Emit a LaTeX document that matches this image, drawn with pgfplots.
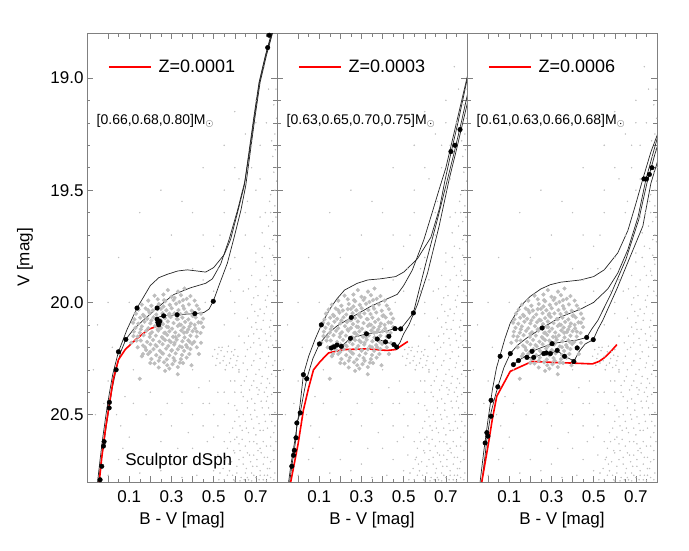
\documentclass[border=0pt]{standalone}
\usepackage{fontspec}
\setmainfont{Liberation Sans}
\usepackage{pgfplots}
\pgfplotsset{compat=1.18}
\usepackage{pgfplotstable}

% observed stars (same in all panels): blue stragglers and field/galaxy stars
\pgfplotstableread{
x y
0.283 19.945
0.331 19.952
0.362 19.938
0.22 19.97
0.262 19.965
0.30 19.975
0.345 19.968
0.39 19.972
0.19 19.992
0.235 19.986
0.27 19.995
0.31 19.989
0.338 19.998
0.372 19.984
0.41 19.992
0.16 20.01
0.205 20.015
0.24 20.007
0.262 20.018
0.292 20.011
0.322 20.006
0.355 20.016
0.383 20.009
0.42 20.014
0.145 20.032
0.178 20.027
0.212 20.036
0.25 20.029
0.276 20.035
0.301 20.026
0.333 20.034
0.36 20.028
0.396 20.037
0.43 20.03
0.132 20.05
0.165 20.055
0.196 20.046
0.228 20.054
0.258 20.048
0.287 20.057
0.314 20.049
0.343 20.052
0.37 20.045
0.405 20.058
0.44 20.05
0.125 20.075
0.152 20.068
0.185 20.073
0.215 20.066
0.243 20.077
0.27 20.07
0.296 20.065
0.325 20.074
0.352 20.068
0.38 20.076
0.415 20.067
0.45 20.072
0.118 20.09
0.143 20.095
0.172 20.086
0.2 20.093
0.232 20.088
0.26 20.097
0.283 20.085
0.31 20.092
0.338 20.098
0.365 20.087
0.392 20.094
0.428 20.089
0.13 20.113
0.16 20.107
0.19 20.115
0.222 20.106
0.25 20.114
0.277 20.108
0.303 20.117
0.33 20.105
0.358 20.112
0.386 20.107
0.412 20.116
0.122 20.13
0.15 20.135
0.18 20.127
0.208 20.133
0.238 20.126
0.266 20.136
0.29 20.129
0.318 20.134
0.347 20.125
0.373 20.132
0.4 20.128
0.438 20.136
0.14 20.152
0.168 20.146
0.197 20.154
0.226 20.148
0.255 20.155
0.28 20.145
0.308 20.153
0.335 20.147
0.362 20.156
0.39 20.148
0.42 20.152
0.155 20.17
0.185 20.176
0.213 20.167
0.243 20.175
0.27 20.168
0.297 20.177
0.325 20.166
0.352 20.173
0.38 20.169
0.408 20.176
0.165 20.192
0.2 20.187
0.23 20.195
0.258 20.186
0.285 20.194
0.313 20.188
0.34 20.196
0.37 20.19
0.398 20.185
0.18 20.212
0.215 20.208
0.245 20.215
0.275 20.206
0.302 20.213
0.33 20.209
0.36 20.216
0.39 20.208
0.19 20.23
0.228 20.235
0.26 20.228
0.29 20.236
0.32 20.227
0.35 20.234
0.385 20.23
0.205 20.252
0.245 20.246
0.278 20.254
0.31 20.248
0.345 20.253
0.372 20.246
0.22 20.272
0.265 20.267
0.305 20.275
0.34 20.268
0.24 20.29
0.29 20.295
0.33 20.288
0.15 20.34
0.33 20.32
0.27 20.305
0.395 20.28
0.11 20.18
0.44 20.18
0.45 20.11
0.43 20.23
0.16 20.24
0.14 20.2
0.12 20.15
0.42 20.2
0.2 20.27
0.17 20.06
0.205 20.08
0.235 20.12
0.26 20.16
0.29 20.05
0.315 20.18
0.345 20.1
0.375 20.2
0.4 20.06
0.2 20.14
0.225 20.19
0.255 20.225
0.285 20.11
0.3 20.215
0.33 20.075
0.36 20.135
0.385 20.175
0.41 20.1
0.19 20.035
0.235 20.03
0.315 19.98
0.265 19.99
0.355 19.99
0.42 20.13
0.44 20.09
0.175 20.2
0.24 20.26
0.28 20.28
0.315 20.26
0.355 20.27
0.135 20.17
0.155 20.12
0.165 20.23
0.2 20.22
0.27 20.135
0.32 20.155
0.35 20.2
0.29 20.17
0.38 20.12
0.25 20.08
}\bsstab

\pgfplotstableread{
x y
0.505 20.21
0.52 20.23
0.535 20.215
0.55 20.24
0.565 20.22
0.58 20.25
0.595 20.235
0.61 20.26
0.515 20.25
0.53 20.27
0.545 20.26
0.56 20.28
0.575 20.27
0.59 20.29
0.605 20.28
0.62 20.3
0.54 20.2
0.57 20.195
0.6 20.21
0.51 20.28
0.555 20.3
0.585 20.22
0.525 20.2
0.615 20.24
0.495 20.24
0.72 19.62
0.76 19.66
0.79 19.7
0.74 19.75
0.78 19.79
0.70 19.78
0.77 19.6
0.73 19.69
0.70 19.82
0.74 19.84
0.77 19.86
0.79 19.83
0.68 19.88
0.72 19.9
0.76 19.93
0.785 19.95
0.71 19.97
0.745 19.99
0.665 19.94
0.79 19.9
0.68 20.01
0.72 20.03
0.75 20.02
0.78 20.05
0.66 20.07
0.70 20.09
0.735 20.08
0.765 20.11
0.79 20.13
0.69 20.14
0.715 20.16
0.75 20.17
0.78 20.19
0.645 20.18
0.675 20.2
0.725 20.12
0.66 20.21
0.70 20.23
0.73 20.22
0.76 20.24
0.79 20.26
0.64 20.27
0.68 20.28
0.715 20.3
0.745 20.29
0.775 20.32
0.655 20.33
0.69 20.35
0.725 20.36
0.755 20.34
0.785 20.38
0.63 20.37
0.67 20.39
0.705 20.38
0.74 20.4
0.62 20.31
0.64 20.42
0.68 20.43
0.71 20.41
0.75 20.44
0.78 20.45
0.60 20.46
0.66 20.47
0.695 20.48
0.73 20.47
0.765 20.5
0.62 20.51
0.65 20.53
0.68 20.52
0.715 20.54
0.745 20.53
0.79 20.55
0.59 20.56
0.635 20.57
0.665 20.58
0.70 20.59
0.735 20.57
0.77 20.6
0.61 20.6
0.755 20.42
0.58 20.62
0.62 20.63
0.65 20.64
0.69 20.62
0.72 20.65
0.75 20.64
0.785 20.66
0.60 20.67
0.64 20.69
0.67 20.68
0.705 20.7
0.74 20.69
0.77 20.71
0.57 20.72
0.61 20.73
0.655 20.74
0.685 20.73
0.72 20.75
0.755 20.74
0.79 20.76
0.59 20.77
0.63 20.78
0.665 20.79
0.70 20.78
0.735 20.79
0.77 20.78
0.55 20.79
0.6 20.795
0.645 20.79
0.68 20.795
0.715 20.79
0.56 20.69
0.53 20.76
0.71 20.66
0.68 20.76
0.62 20.7
0.74 20.77
0.5 19.75
0.55 19.6
0.62 19.45
0.68 19.3
0.45 19.9
0.58 19.95
0.6 20.05
0.55 20.1
0.58 20.35
0.52 20.4
0.48 20.45
0.55 20.5
0.45 20.55
0.5 20.6
0.4 20.65
0.45 20.7
0.5 20.75
0.35 20.78
0.42 20.77
0.3 20.72
0.38 20.58
0.25 20.62
0.2 20.7
0.15 20.76
0.28 20.45
0.35 20.4
0.18 20.5
0.1 20.6
0.05 20.7
0.0 20.77
-0.06 20.5
-0.07 20.3
0.08 20.42
0.12 20.3
0.02 20.2
0.1 20.0
0.2 19.8
0.3 19.7
0.4 19.6
0.45 19.4
0.55 19.3
0.6 19.15
0.7 19.1
0.75 19.2
0.78 19.35
0.79 19.5
0.66 19.55
0.72 19.45
0.52 19.85
0.62 19.9
0.4 19.85
0.35 20.45
0.43 20.38
0.6 20.4
0.57 20.45
0.65 19.7
0.6 19.8
0.76 19.05
0.79 19.25
0.74 18.95
0.795 19.05
0.785 19.12
0.798 19.18
0.775 19.28
0.792 19.32
0.785 19.42
0.798 19.46
0.77 19.52
0.79 19.57
0.78 19.64
0.797 19.73
0.765 19.76
0.788 19.81
0.775 19.88
0.797 19.97
0.755 19.97
0.78 19.72
0.765 19.55
0.745 19.6
0.73 19.8
0.75 19.88
0.7 19.93
0.69 19.98
0.8 19.4
0.795 19.62
0.695 20.04
0.71 20.06
0.74 20.05
0.77 20.08
0.68 20.11
0.705 20.12
0.745 20.14
0.77 20.15
0.795 20.17
0.665 20.15
0.69 20.18
0.72 20.19
0.76 20.2
0.65 20.24
0.69 20.26
0.72 20.25
0.75 20.27
0.78 20.28
0.66 20.3
0.7 20.32
0.73 20.33
0.765 20.36
0.795 20.33
0.645 20.35
0.68 20.37
0.715 20.39
0.75 20.38
0.775 20.41
0.63 20.4
0.66 20.44
0.695 20.45
0.725 20.44
0.76 20.47
0.79 20.49
0.61 20.48
0.64 20.5
0.675 20.5
0.705 20.51
0.74 20.5
0.775 20.53
0.6 20.53
0.625 20.55
0.655 20.56
0.69 20.56
0.72 20.57
0.755 20.56
0.785 20.58
0.575 20.58
0.6 20.61
0.635 20.61
0.67 20.62
0.705 20.63
0.735 20.62
0.77 20.64
0.795 20.62
0.565 20.65
0.595 20.66
0.625 20.66
0.66 20.67
0.69 20.68
0.725 20.67
0.755 20.69
0.785 20.7
0.555 20.7
0.585 20.71
0.64 20.72
0.675 20.71
0.705 20.73
0.735 20.72
0.765 20.74
0.545 20.74
0.575 20.75
0.61 20.76
0.65 20.76
0.69 20.77
0.72 20.77
0.755 20.77
0.785 20.79
0.525 20.79
0.565 20.77
0.595 20.79
0.625 20.795
0.66 20.78
0.75 20.795
0.04 20.5
0.06 20.55
-0.02 20.45
0.0 20.35
0.07 20.65
0.12 20.45
0.2 20.4
0.25 20.5
0.3 20.55
0.33 20.65
0.25 20.75
0.4 20.5
0.45 20.45
0.52 20.55
0.47 20.62
0.52 20.68
0.55 20.62
0.5 20.5
0.55 20.4
0.6 20.35
0.62 20.15
0.6 20.0
0.64 19.95
0.58 19.85
0.5 19.95
0.48 20.35
0.4 20.3
0.46 20.0
0.53 19.7
0.65 19.6
0.7 19.5
0.68 19.4
0.72 19.3
0.7 19.2
0.65 19.25
0.6 19.4
0.55 19.5
0.45 19.7
0.35 19.55
0.25 19.5
0.15 19.6
0.05 19.8
0.0 20.0
-0.05 20.1
}\fieldtab

\tikzset{masslab/.style={anchor=west, inner sep=0pt, font=\fontsize{14}{16}\selectfont}}

\pgfplotsset{
  cmdpanel/.style={
    scale only axis, width=190pt, height=449pt,
    xmin=-0.1, xmax=0.8, ymin=18.8, ymax=20.8, y dir=reverse,
    xtick={0,0.1,0.2,0.3,0.4,0.5,0.6,0.7,0.8},
    xticklabels={,0.1,,0.3,,0.5,,0.7,},
    minor x tick num=1,
    ytick={19.0,19.5,20.0,20.5},
    minor y tick num=4,
    tick align=inside,
    axis line style={black!50, line width=0.6pt},
    tick style={black!50, line width=0.5pt},
    major tick length=6pt, minor tick length=3.5pt,
    xlabel={B - V [mag]},
    tick label style={font=\fontsize{17}{19}\selectfont},
    xticklabel style={yshift=-5pt},
    label style={font=\fontsize{17}{19}\selectfont},
    xlabel style={at={(axis description cs:0.5,-0.085)}, anchor=center},
    legend style={draw=none, fill=none, at={(0.11,0.924)}, anchor=west,
      font=\fontsize{18}{20}\selectfont, inner sep=0pt, column sep=7pt,
      nodes={inner sep=0pt}},
    legend image code/.code={\draw[red, line width=1.6pt] (0pt,0pt) -- (42pt,0pt);},
  },
  field/.style={only marks, mark=*, mark size=0.5pt, black!25, forget plot},
  bss/.style={only marks, mark=*, mark size=1.9pt, black!26, forget plot},
  track/.style={black!85, line width=0.7pt, forget plot},
  zahb/.style={red, line width=1.6pt},
  hbdot/.style={only marks, mark=*, mark size=2.3pt, black, forget plot},
}

\begin{document}
\begin{tikzpicture}
\path (-87pt,-69pt) rectangle (602pt,482pt);

% ---------------- Z = 0.0001 ----------------
\begin{axis}[cmdpanel, at={(0pt,0pt)}, anchor=south west,
  yticklabels={19.0,19.5,20.0,20.5},
  ylabel={V [mag]},
  ylabel style={at={(axis description cs:-0.326,0.5)}, anchor=center}]
\addplot[field] table {\fieldtab};
\addplot[bss] table {\bsstab};
\addplot[track] coordinates {(-0.05,20.80) (-0.038,20.70) (-0.025,20.60) (-0.01,20.50) (0.005,20.41) (0.022,20.32) (0.049,20.22) (0.09,20.12) (0.137,20.025) (0.2,19.925) (0.24,19.89) (0.28,19.875) (0.33,19.86) (0.375,19.855) (0.42,19.86) (0.462,19.865) (0.50,19.845) (0.55,19.787) (0.58,19.72) (0.613,19.60) (0.645,19.48) (0.665,19.345) (0.69,19.177) (0.715,19.02) (0.745,18.90) (0.78,18.78)};
\addplot[track] coordinates {(-0.045,20.80) (-0.035,20.72) (-0.022,20.64) (-0.005,20.53) (0.005,20.47) (0.02,20.38) (0.038,20.30) (0.06,20.22) (0.084,20.165) (0.12,20.12) (0.16,20.085) (0.232,20.025) (0.27,19.995) (0.311,19.965) (0.39,19.935) (0.462,19.915) (0.494,19.895) (0.533,19.83) (0.573,19.72) (0.613,19.59) (0.648,19.46) (0.668,19.34) (0.692,19.18) (0.717,19.02) (0.747,18.90) (0.78,18.79)};
\addplot[track] coordinates {(0.245,20.10) (0.234,20.09) (0.232,20.075) (0.24,20.065) (0.263,20.06) (0.327,20.055) (0.411,20.05) (0.454,20.045) (0.478,20.03) (0.498,19.995) (0.525,19.925) (0.565,19.825) (0.597,19.71) (0.629,19.59) (0.652,19.48) (0.672,19.34) (0.695,19.18) (0.72,19.02) (0.75,18.9) (0.782,18.79)};
\addplot[zahb] coordinates {(-0.042,20.80) (-0.03,20.69) (-0.012,20.56) (0.008,20.44) (0.025,20.34) (0.049,20.255) (0.081,20.21) (0.13,20.166) (0.192,20.12) (0.248,20.10)};
\addlegendentry{Z=0.0001}
\addplot[hbdot] coordinates {(-0.038,20.79) (-0.03,20.73) (-0.022,20.64) (-0.019,20.62) (0.005,20.47) (0.006,20.445) (0.038,20.30) (0.049,20.22) (0.084,20.165) (0.137,20.025) (0.232,20.025) (0.232,20.075) (0.236,20.09) (0.24,20.10) (0.245,20.085) (0.263,20.06) (0.327,20.055) (0.411,20.05) (0.498,19.995) (0.756,18.865) (0.763,18.81)};
\node[masslab] at (axis cs:-0.055,19.19) {[0.66,0.68,0.80]M$_\odot$};
\node[anchor=west, inner sep=0pt, font=\fontsize{17}{19}\selectfont] at (axis cs:0.081,20.706) {Sculptor dSph};
\end{axis}

% ---------------- Z = 0.0003 ----------------
\begin{axis}[cmdpanel, at={(190pt,0pt)}, anchor=south west, yticklabels={}]
\addplot[field] table {\fieldtab};
\addplot[bss] table {\bsstab};
\addplot[track] coordinates {(-0.045,20.80) (-0.035,20.73) (-0.025,20.67) (-0.013,20.60) (-0.002,20.53) (0.01,20.45) (0.025,20.322) (0.05,20.24) (0.08,20.165) (0.11,20.10) (0.15,20.03) (0.184,19.984) (0.22,19.945) (0.28,19.915) (0.33,19.9) (0.39,19.895) (0.462,19.885) (0.50,19.865) (0.565,19.806) (0.629,19.71) (0.67,19.58) (0.695,19.46) (0.725,19.33) (0.757,19.2) (0.80,19.01) (0.81,18.97)};
\addplot[track] coordinates {(-0.04,20.80) (-0.03,20.73) (-0.022,20.681) (-0.018,20.659) (-0.01,20.603) (-0.006,20.537) (0.01,20.492) (0.028,20.40) (0.041,20.34) (0.07,20.25) (0.101,20.185) (0.14,20.14) (0.184,20.105) (0.252,20.067) (0.343,20.018) (0.422,19.984) (0.47,19.964) (0.50,19.925) (0.541,19.856) (0.596,19.72) (0.635,19.6) (0.667,19.5) (0.70,19.40) (0.745,19.22) (0.79,19.04) (0.81,18.96)};
\addplot[track] coordinates {(0.157,20.203) (0.184,20.19) (0.205,20.196) (0.248,20.16) (0.324,20.14) (0.406,20.13) (0.459,20.117) (0.486,20.118) (0.51,20.09) (0.546,20.047) (0.565,19.975) (0.605,19.826) (0.66,19.63) (0.708,19.45) (0.74,19.33) (0.775,19.19) (0.81,19.04)};
\addplot[track] coordinates {(0.36,20.15) (0.375,20.163) (0.414,20.176) (0.454,20.188) (0.467,20.199) (0.482,20.18) (0.50,20.14) (0.525,20.10) (0.565,20.01) (0.613,19.87) (0.668,19.66) (0.716,19.45) (0.75,19.32) (0.785,19.18) (0.815,19.06)};
\addplot[zahb] coordinates {(-0.035,20.80) (0.0,20.63) (0.025,20.48) (0.05,20.38) (0.073,20.30) (0.105,20.263) (0.144,20.225) (0.216,20.21) (0.327,20.207) (0.422,20.214) (0.462,20.21) (0.494,20.19) (0.52,20.174)};
\addlegendentry{Z=0.0003}
\addplot[hbdot] coordinates {(-0.03,20.73) (-0.022,20.681) (-0.018,20.659) (-0.01,20.603) (-0.006,20.537) (0.01,20.492) (0.025,20.322) (0.041,20.34) (0.101,20.185) (0.11,20.10) (0.252,20.067) (0.157,20.203) (0.17,20.198) (0.184,20.19) (0.205,20.196) (0.248,20.16) (0.324,20.14) (0.459,20.117) (0.486,20.118) (0.546,20.047) (0.375,20.163) (0.414,20.176) (0.43,20.151) (0.454,20.188) (0.467,20.199) (0.724,19.328) (0.743,19.30) (0.767,19.23)};
\node[masslab] at (axis cs:-0.055,19.19) {[0.63,0.65,0.70,0.75]M$_\odot$};
\end{axis}

% ---------------- Z = 0.0006 ----------------
\begin{axis}[cmdpanel, at={(380pt,0pt)}, anchor=south west, yticklabels={}]
\addplot[field] table {\fieldtab};
\addplot[bss] table {\bsstab};
\addplot[track] coordinates {(-0.038,20.80) (-0.02,20.66) (0.0,20.52) (0.02,20.39) (0.04,20.29) (0.057,20.235) (0.08,20.16) (0.105,20.092) (0.15,20.02) (0.20,19.973) (0.25,19.94) (0.295,19.921) (0.343,19.91) (0.438,19.90) (0.50,19.885) (0.55,19.855) (0.614,19.78) (0.662,19.68) (0.70,19.56) (0.733,19.45) (0.771,19.33) (0.805,19.245) (0.81,19.23)};
\addplot[track] coordinates {(-0.03,20.80) (-0.014,20.68) (-0.006,20.61) (0.002,20.56) (0.014,20.49) (0.03,20.43) (0.046,20.376) (0.075,20.29) (0.105,20.228) (0.14,20.19) (0.184,20.158) (0.256,20.114) (0.343,20.065) (0.438,20.03) (0.50,20.0) (0.567,19.94) (0.614,19.87) (0.662,19.765) (0.71,19.62) (0.748,19.45) (0.786,19.32) (0.81,19.24)};
\addplot[track] coordinates {(0.12,20.277) (0.144,20.259) (0.184,20.235) (0.208,20.218) (0.256,20.2) (0.303,20.184) (0.36,20.175) (0.42,20.168) (0.467,20.156) (0.49,20.12) (0.52,20.08) (0.583,19.96) (0.652,19.81) (0.714,19.63) (0.752,19.47) (0.79,19.34) (0.81,19.28)};
\addplot[track] coordinates {(0.184,20.245) (0.216,20.245) (0.264,20.228) (0.295,20.228) (0.327,20.214) (0.362,20.24) (0.395,20.255) (0.406,20.263) (0.43,20.22) (0.46,20.185) (0.498,20.166) (0.52,20.12) (0.543,20.08) (0.61,19.94) (0.667,19.81) (0.733,19.66) (0.771,19.47) (0.805,19.365) (0.81,19.35)};
\addplot[zahb] coordinates {(-0.03,20.80) (0.002,20.626) (0.02,20.52) (0.041,20.418) (0.105,20.307) (0.208,20.263) (0.3,20.267) (0.39,20.27) (0.494,20.274) (0.525,20.263) (0.55,20.247) (0.58,20.22) (0.61,20.188)};
\addlegendentry{Z=0.0006}
\addplot[hbdot] coordinates {(-0.014,20.626) (-0.006,20.58) (-0.001,20.596) (0.014,20.507) (0.014,20.436) (0.046,20.376) (0.057,20.24) (0.105,20.228) (0.12,20.277) (0.144,20.259) (0.184,20.245) (0.208,20.218) (0.216,20.245) (0.256,20.114) (0.264,20.228) (0.276,20.225) (0.295,20.228) (0.303,20.184) (0.327,20.214) (0.362,20.24) (0.406,20.263) (0.422,20.203) (0.467,20.156) (0.498,20.166) (0.738,19.45) (0.75,19.45) (0.764,19.43) (0.776,19.40)};
\node[masslab] at (axis cs:-0.055,19.19) {[0.61,0.63,0.66,0.68]M$_\odot$};
\end{axis}
\end{tikzpicture}
\end{document}
